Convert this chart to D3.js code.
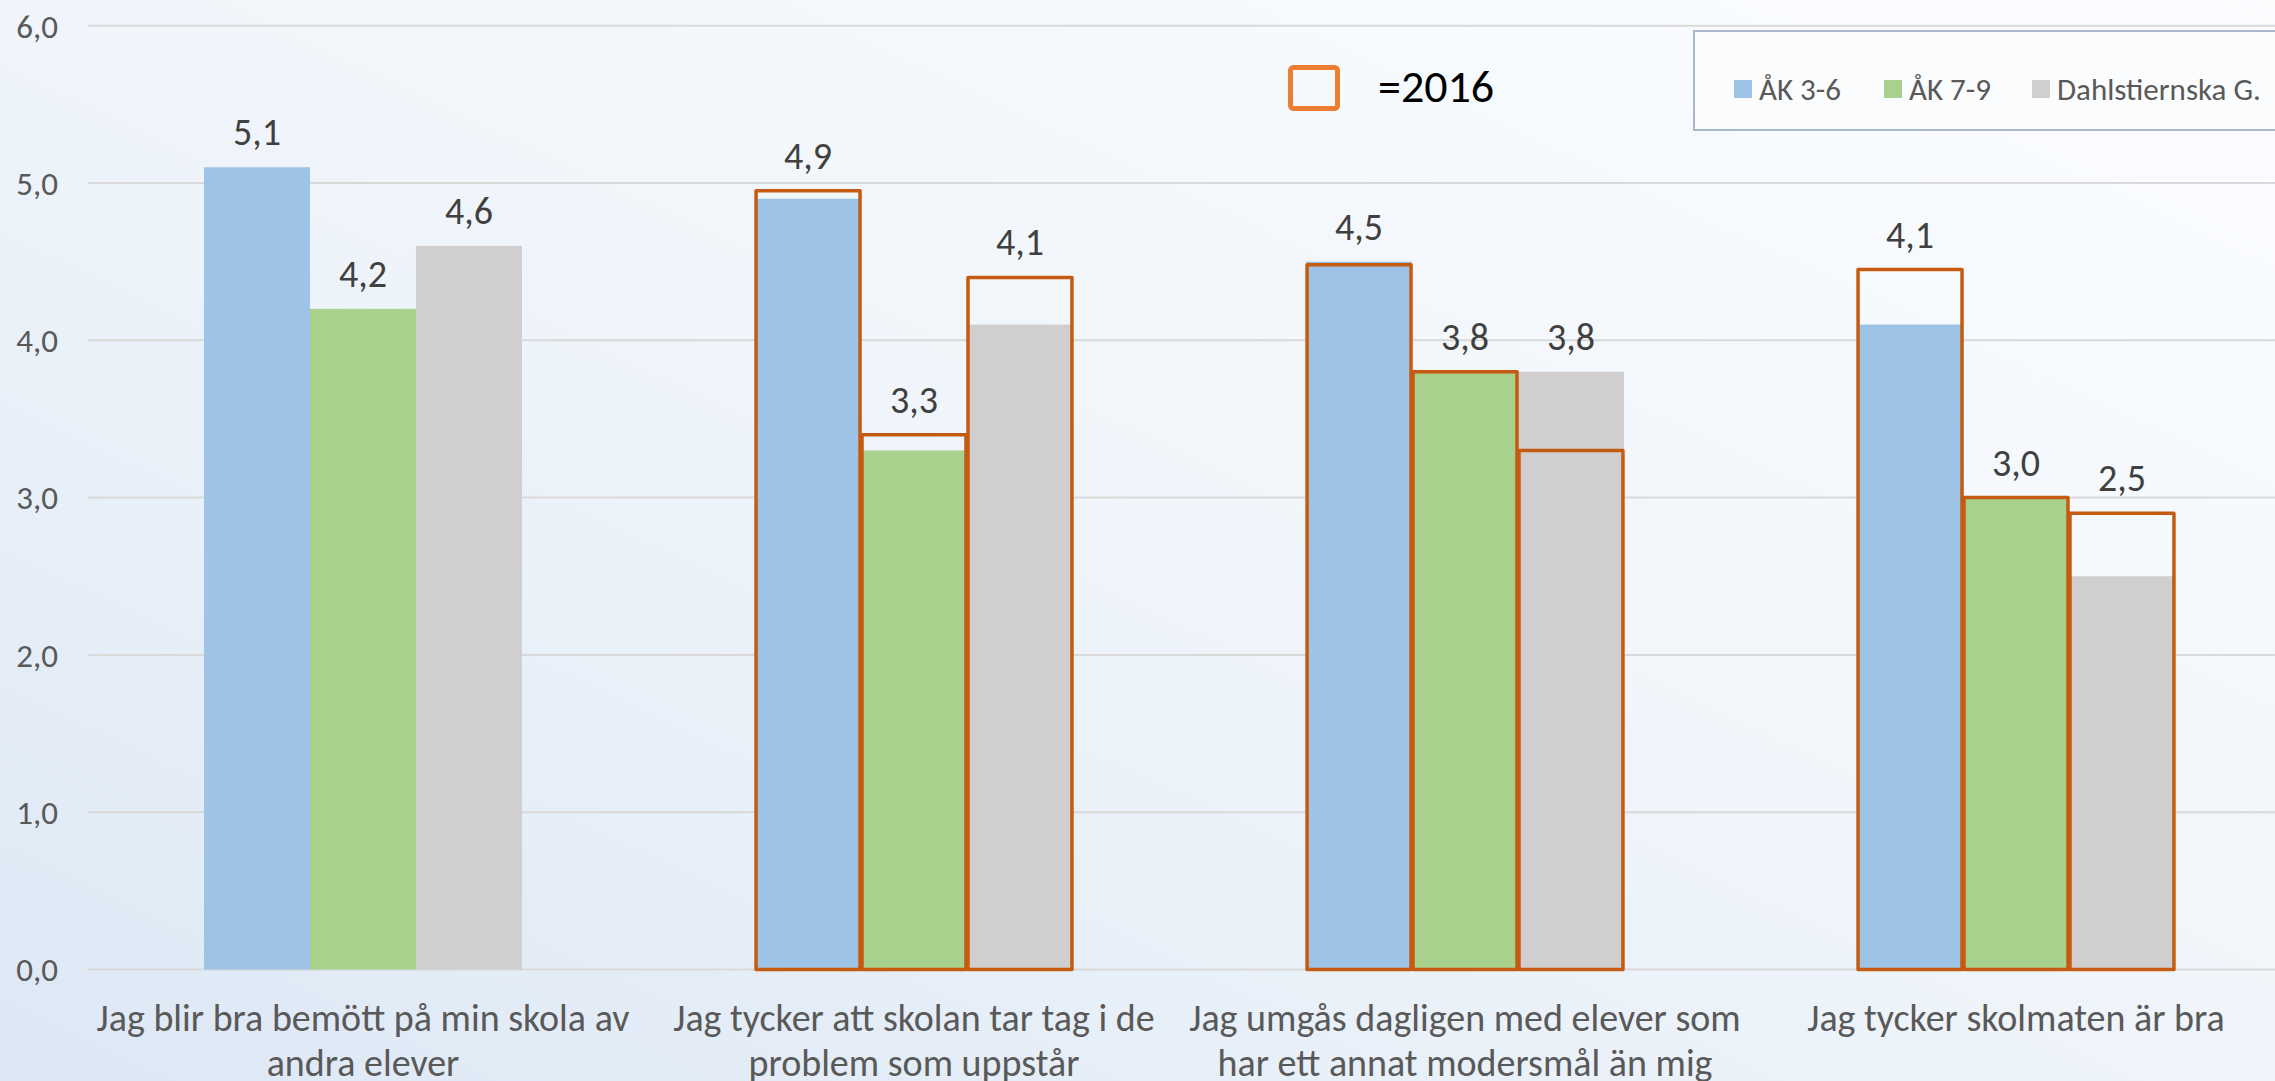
<!DOCTYPE html>
<html>
<head>
<meta charset="utf-8">
<script src="https://cdn.jsdelivr.net/npm/d3@7"></script>
<style>
  html, body { margin: 0; padding: 0; background: #fff; }
  svg { display: block; font-family: Carlito, Lato, "Open Sans", sans-serif; }
</style>
</head>
<body>
<div id="chart"></div>
<script>
// Data
const categories = [
  ["Jag blir bra bemött på min skola av", "andra elever"],
  ["Jag tycker att skolan tar tag i de", "problem som uppstår"],
  ["Jag umgås dagligen med elever som", "har ett annat modersmål än mig"],
  ["Jag tycker skolmaten är bra"]
];
const seriesNames = ["ÅK 3-6", "ÅK 7-9", "Dahlstiernska G."];
const values2017 = [
  [5.1, 4.2, 4.6],
  [4.9, 3.3, 4.1],
  [4.5, 3.8, 3.8],
  [4.1, 3.0, 2.5]
];
// 2016 outlines (null = no earlier value)
const values2016 = [
  [null, null, null],
  [4.95, 3.4, 4.4],
  [4.48, 3.8, 3.3],
  [4.45, 3.0, 2.9]
];
const yTicks = [0, 1, 2, 3, 4, 5, 6];

const W = 2275, H = 1081;
const colors = ["#9DC3E6", "#A9D18E", "#D0CECE"];
const fmt = v => v.toFixed(1).replace(".", ",");

const svg = d3.select("#chart").append("svg")
    .attr("width", W)
    .attr("height", H);

// Background gradient
const defs = svg.append("defs");
const grad = defs.append("linearGradient")
    .attr("id", "bg")
    .attr("x1", "0%").attr("y1", "100%")
    .attr("x2", "100%").attr("y2", "0%");
grad.append("stop").attr("offset", "0%").attr("stop-color", "#DDE8F5");
grad.append("stop").attr("offset", "55%").attr("stop-color", "#F1F6FB");
grad.append("stop").attr("offset", "100%").attr("stop-color", "#FCFDFF");
svg.append("rect").attr("width", W).attr("height", H).attr("fill", "url(#bg)");

// Scales
const x0 = d3.scaleBand()
    .domain(d3.range(categories.length))
    .range([87.5, 87.5 + 4 * 551])
    .paddingInner(0).paddingOuter(0);
const barW = x0.bandwidth() / (3 + 2.2);
const x1 = d3.scaleBand()
    .domain(d3.range(seriesNames.length))
    .range([0, barW * 3]);
const y = d3.scaleLinear().domain([0, 6]).range([969.5, 25.7]);

// Grid
svg.append("g").selectAll("line")
  .data(yTicks)
  .join("line")
    .attr("x1", 88).attr("x2", W)
    .attr("y1", d => y(d)).attr("y2", d => y(d))
    .attr("stroke", "#D9D9D9")
    .attr("stroke-width", 2);

// Y axis labels
svg.append("g").selectAll("text")
  .data(yTicks)
  .join("text")
    .attr("x", 58)
    .attr("y", d => y(d))
    .attr("dy", "0.36em")
    .attr("text-anchor", "end")
    .attr("font-size", 33)
    .attr("fill", "#595959")
    .text(d => fmt(d));

// Bars
const groups = svg.append("g").selectAll("g")
  .data(values2017)
  .join("g")
    .attr("transform", (d, i) => `translate(${x0(i) + (x0.bandwidth() - barW * 3) / 2},0)`);

groups.selectAll("rect.bar")
  .data(d => d)
  .join("rect")
    .attr("class", "bar")
    .attr("x", (d, j) => x1(j))
    .attr("width", x1.bandwidth())
    .attr("y", d => y(d))
    .attr("height", d => y(0) - y(d))
    .attr("fill", (d, j) => colors[j]);

// 2016 outlines
groups.each(function(d, i) {
  d3.select(this).selectAll("rect.old")
    .data(values2016[i].map((v, j) => ({ v, j })).filter(o => o.v != null))
    .join("rect")
      .attr("class", "old")
      .attr("x", o => x1(o.j) + 1)
      .attr("width", x1.bandwidth() - 2)
      .attr("y", o => y(o.v))
      .attr("height", o => y(0) - y(o.v))
      .attr("fill", "none")
      .attr("stroke", "#C55A11")
      .attr("stroke-width", 3.5)
      .attr("stroke-linejoin", "round");
});

// Data labels
groups.each(function(d, i) {
  d3.select(this).selectAll("text.lbl")
    .data(d.map((v, j) => ({ v, j, top: Math.max(v, values2016[i][j] || 0) })))
    .join("text")
      .attr("class", "lbl")
      .attr("x", o => x1(o.j) + x1.bandwidth() / 2)
      .attr("y", o => y(o.top) - 22)
      .attr("text-anchor", "middle")
      .attr("font-size", 38)
      .attr("fill", "#404040")
      .text(o => fmt(o.v));
});

// Category labels
svg.append("g").selectAll("text")
  .data(categories)
  .join("text")
    .attr("x", (d, i) => x0(i) + x0.bandwidth() / 2)
    .attr("y", 1031)
    .attr("text-anchor", "middle")
    .attr("font-size", 38)
    .attr("fill", "#595959")
  .selectAll("tspan")
  .data(d => d)
  .join("tspan")
    .attr("x", function() { return this.parentNode.getAttribute("x"); })
    .attr("dy", (d, k) => k === 0 ? 0 : 45)
    .text(d => d);

// "=2016" key
const key = svg.append("g");
key.append("rect")
    .attr("x", 1290.5).attr("y", 67.5)
    .attr("width", 47).attr("height", 41)
    .attr("rx", 3)
    .attr("fill", "none")
    .attr("stroke", "#ED7D31")
    .attr("stroke-width", 5);
key.append("text")
    .attr("x", 1378).attr("y", 102)
    .attr("font-size", 46)
    .attr("fill", "#000")
    .text("=2016");

// Legend
const legend = svg.append("g");
legend.append("rect")
    .attr("x", 1694).attr("y", 31)
    .attr("width", 620).attr("height", 99)
    .attr("fill", "#FAFCFE")
    .attr("stroke", "#A9B8CC")
    .attr("stroke-width", 2);
const legX = [1734, 1884, 2032];
const items = legend.selectAll("g")
  .data(seriesNames)
  .join("g")
    .attr("transform", (d, i) => `translate(${legX[i]},0)`);
items.append("rect")
    .attr("y", 80).attr("width", 18).attr("height", 18)
    .attr("fill", (d, i) => colors[i]);
items.append("text")
    .attr("x", 25).attr("y", 100)
    .attr("font-size", 31)
    .attr("fill", "#595959")
    .text(d => d);
</script>
</body>
</html>
